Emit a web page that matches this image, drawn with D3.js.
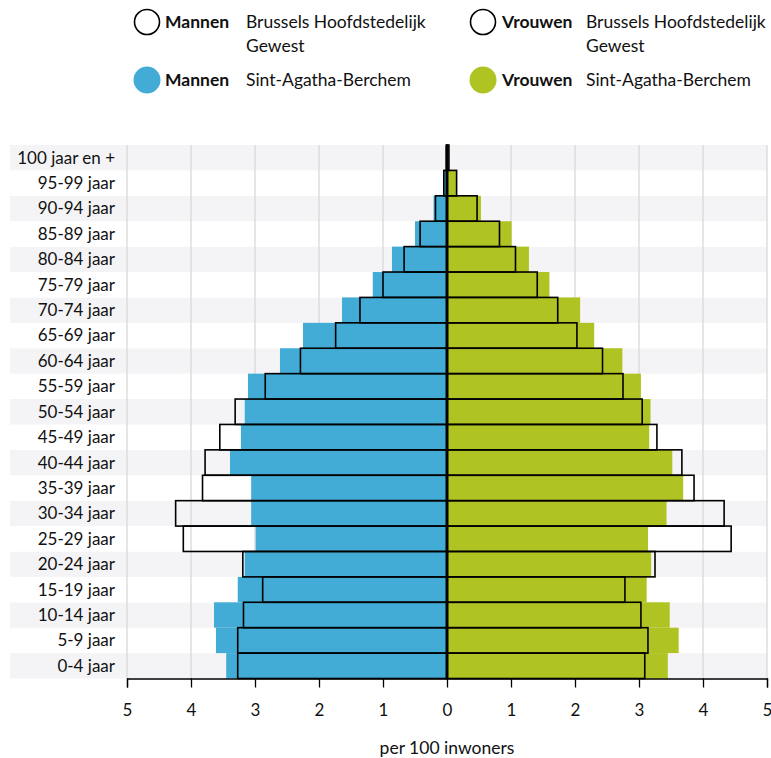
<!DOCTYPE html>
<html><head><meta charset="utf-8">
<script src="https://cdn.jsdelivr.net/npm/d3@7"></script>
<style>
body{margin:0;background:#fff;}
svg{display:block;font-family:Lato,"Open Sans",sans-serif;}
</style></head>
<body><svg id="c" width="771" height="758"></svg>
<script>
const ageGroups = ["0-4 jaar","5-9 jaar","10-14 jaar","15-19 jaar","20-24 jaar","25-29 jaar","30-34 jaar","35-39 jaar","40-44 jaar","45-49 jaar","50-54 jaar","55-59 jaar","60-64 jaar","65-69 jaar","70-74 jaar","75-79 jaar","80-84 jaar","85-89 jaar","90-94 jaar","95-99 jaar","100 jaar en +"];
const menLocal    = [3.45,3.61,3.64,3.27,3.16,2.99,3.06,3.06,3.39,3.22,3.16,3.11,2.61,2.25,1.64,1.16,0.86,0.50,0.21,0.05,0.01];
const menRegion   = [3.27,3.27,3.18,2.88,3.19,4.12,4.24,3.82,3.78,3.55,3.31,2.84,2.29,1.74,1.36,1.00,0.67,0.42,0.18,0.05,0.01];
const womenLocal  = [3.45,3.62,3.48,3.12,3.19,3.14,3.43,3.69,3.52,3.16,3.18,3.03,2.74,2.30,2.08,1.60,1.28,1.01,0.53,0.14,0.03];
const womenRegion = [3.09,3.14,3.03,2.78,3.25,4.44,4.33,3.86,3.67,3.28,3.05,2.75,2.43,2.03,1.73,1.41,1.07,0.82,0.47,0.15,0.03];
const xTicks = [-5,-4,-3,-2,-1,0,1,2,3,4,5];
const axisTitle = "per 100 inwoners";

const BLUE = "#42acd6", GREEN = "#afc323";
const svg = d3.select("#c");
const x = d3.scaleLinear().domain([-5,5]).range([127,767]);
const y = d3.scaleBand().domain(ageGroups.slice().reverse()).range([145,678.5]).padding(0);
const bw = y.bandwidth();

// stripes
svg.append("g").selectAll("rect").data(ageGroups).join("rect")
  .attr("x",10).attr("width",757)
  .attr("y",d=>y(d)).attr("height",bw)
  .attr("fill",(d,i)=> (ageGroups.length-1-i)%2===0 ? "#f4f4f6" : "#ffffff");

// grid
svg.append("g").selectAll("line").data(xTicks.filter(t=>t!==0)).join("line")
  .attr("x1",d=>x(d)).attr("x2",d=>x(d)).attr("y1",145).attr("y2",678.5)
  .attr("stroke","#d9d9d9").attr("stroke-width",1.3);

// local bars
svg.append("g").selectAll("rect").data(ageGroups).join("rect")
  .attr("x",(d,i)=>x(-menLocal[i])).attr("width",(d,i)=>x(0)-x(-menLocal[i]))
  .attr("y",d=>y(d)).attr("height",bw).attr("fill",BLUE);
svg.append("g").selectAll("rect").data(ageGroups).join("rect")
  .attr("x",x(0)).attr("width",(d,i)=>x(womenLocal[i])-x(0))
  .attr("y",d=>y(d)).attr("height",bw).attr("fill",GREEN);

// region outlines
svg.append("g").selectAll("rect").data(ageGroups).join("rect")
  .attr("x",(d,i)=>x(-menRegion[i])).attr("width",(d,i)=>x(0)-x(-menRegion[i]))
  .attr("y",d=>y(d)).attr("height",bw).attr("fill","none").attr("stroke","#000").attr("stroke-width",1.6);
svg.append("g").selectAll("rect").data(ageGroups).join("rect")
  .attr("x",x(0)).attr("width",(d,i)=>x(womenRegion[i])-x(0))
  .attr("y",d=>y(d)).attr("height",bw).attr("fill","none").attr("stroke","#000").attr("stroke-width",1.6);

// center line
svg.append("line").attr("x1",x(0)).attr("x2",x(0)).attr("y1",145).attr("y2",678.5)
  .attr("stroke","#000").attr("stroke-width",3);

// y labels
svg.append("g").selectAll("text").data(ageGroups).join("text")
  .attr("x",115).attr("y",d=>y(d)+bw/2).attr("dy","0.35em")
  .attr("text-anchor","end").attr("font-size",17).attr("fill","#111").text(d=>d);

// x axis
const ax = svg.append("g").attr("transform","translate(0,678.5)")
  .call(d3.axisBottom(x).tickValues(xTicks).tickSize(9).tickPadding(16).tickFormat(d=>Math.abs(d)));
ax.selectAll("path,line").attr("stroke","#000").attr("stroke-width",1.3);
ax.selectAll("text").attr("font-size",17).attr("fill","#111").attr("font-family","Lato,'Open Sans',sans-serif");

svg.append("text").attr("x",x(0)).attr("y",748).attr("dy","0.35em").attr("text-anchor","middle")
  .attr("font-size",17.5).attr("fill","#111").text(axisTitle);

// legend
const legend = [
  {cx:147, cy:22, fill:"#fff", stroke:"#000", bold:"Mannen", tx:165, lx:246, lines:["Brussels Hoofdstedelijk","Gewest"]},
  {cx:483, cy:22, fill:"#fff", stroke:"#000", bold:"Vrouwen", tx:502, lx:586, lines:["Brussels Hoofdstedelijk","Gewest"]},
  {cx:147, cy:80, fill:BLUE, stroke:"none", bold:"Mannen", tx:165, lx:246, lines:["Sint-Agatha-Berchem"]},
  {cx:483, cy:80, fill:GREEN, stroke:"none", bold:"Vrouwen", tx:502, lx:586, lines:["Sint-Agatha-Berchem"]}
];
const lg = svg.append("g").selectAll("g").data(legend).join("g");
lg.append("circle").attr("cx",d=>d.cx).attr("cy",d=>d.cy).attr("r",d=>d.stroke==="none"?13.5:12.5)
  .attr("fill",d=>d.fill).attr("stroke",d=>d.stroke).attr("stroke-width",1.6);
lg.append("text").attr("x",d=>d.tx).attr("y",d=>d.cy).attr("dy","0.35em").attr("font-size",17.5)
  .attr("font-weight","bold").attr("fill","#111").text(d=>d.bold);
lg.each(function(d){
  const g = d3.select(this);
  d.lines.forEach((t,k)=>{
    g.append("text").attr("x",d.lx).attr("y",d.cy+k*24).attr("dy","0.35em").attr("font-size",17.5)
     .attr("fill","#111").text(t);
  });
});
</script></body></html>
